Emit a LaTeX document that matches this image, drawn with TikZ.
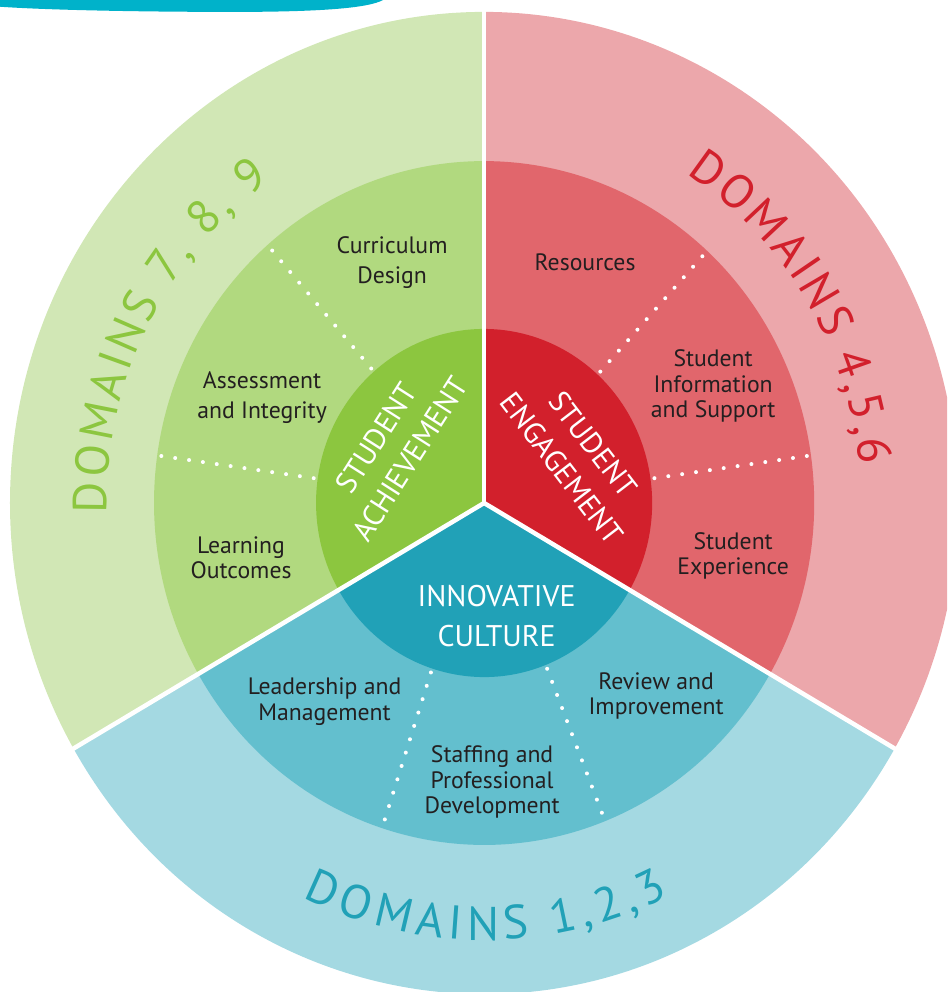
\documentclass[tikz,border=0pt]{standalone}
\usepackage{fontspec}
\setmainfont{PT Sans}
\usetikzlibrary{decorations.text}

\definecolor{greenout}{HTML}{D1E7B5}
\definecolor{greenmid}{HTML}{B1D97F}
\definecolor{greenin}{HTML}{8CC63F}
\definecolor{redout}{HTML}{ECA7AB}
\definecolor{redmid}{HTML}{E1666C}
\definecolor{redin}{HTML}{D2202C}
\definecolor{blueout}{HTML}{A4D9E2}
\definecolor{bluemid}{HTML}{63BFCE}
\definecolor{bluein}{HTML}{21A1B7}
\definecolor{brush}{HTML}{00B2CA}
\definecolor{ink}{HTML}{231F20}

\newcommand{\areafont}{\fontsize{13.5}{14.6}\selectfont}
\newcommand{\widefont}{\fontsize{13.5}{17}\selectfont}
\newcommand{\corefont}{\fontsize{17}{22.5}\selectfont}
\newcommand{\domainfont}{\fontsize{27}{30}\selectfont}

\begin{document}
\begin{tikzpicture}[%
x=0.02cm, y=0.02072cm,
areatext/.style={text=ink, align=center, font=\areafont, inner sep=0pt},
coretext/.style={text=white, align=center, font=\corefont, inner sep=0pt},
gapline/.style={white, line width=0.09cm},
dotline/.style={white, line width=0.08cm, line cap=round, dash pattern=on 0pt off 0.28cm},
]
\useasboundingbox (-484,-472) rectangle (463,485.5);
\clip (-484,-472) rectangle (463,485.5);
%% brush stroke;
\fill[brush] (-484,485.5) -- (-101,485.5) .. controls (-115,478) and (-160,474) .. (-250,474) .. controls (-350,474) and (-440,476) .. (-484,479) -- cycle;
%% outer ring;
\fill[greenout] (0,0) -- (90:474) arc[start angle=90, end angle=210, radius=474] -- cycle;
\fill[blueout] (0,0) -- (210:474) arc[start angle=210, end angle=330, radius=474] -- cycle;
\fill[redout] (0,0) -- (-30:474) arc[start angle=-30, end angle=90, radius=474] -- cycle;
%% middle ring;
\fill[greenmid] (0,0) -- (90:330) arc[start angle=90, end angle=210, radius=330] -- cycle;
\fill[bluemid] (0,0) -- (210:330) arc[start angle=210, end angle=330, radius=330] -- cycle;
\fill[redmid] (0,0) -- (-30:330) arc[start angle=-30, end angle=90, radius=330] -- cycle;
%% core;
\fill[greenin] (0,0) -- (90:168) arc[start angle=90, end angle=210, radius=168] -- cycle;
\fill[bluein] (0,0) -- (210:168) arc[start angle=210, end angle=330, radius=168] -- cycle;
\fill[redin] (0,0) -- (-30:168) arc[start angle=-30, end angle=90, radius=168] -- cycle;
%% dots;
\draw[dotline] (131:172) -- (131:334);
\draw[dotline] (172:172) -- (172:334);
\draw[dotline] (47.5:172) -- (47.5:334);
\draw[dotline] (8:172) -- (8:334);
\draw[dotline] (252:172) -- (252:330);
\draw[dotline] (291.5:172) -- (291.5:334);
%% gaps;
\draw[gapline] (0,0) -- (90:490);
\draw[gapline] (0,0) -- (210:490);
\draw[gapline] (0,0) -- (330:490);
%% domains;
\path[decorate, decoration={text along path, text align=fit to path, text color=greenin, text={|\domainfont|DOMAINS 7, 8, 9}}] (181.5:377) arc[start angle=181.5, end angle=124.5, radius=377];
\path[decorate, decoration={text along path, text align=fit to path, text color=redin, text={|\domainfont|DOMAINS 4,5,6}}] (57.5:377) arc[start angle=57.5, end angle=5.5, radius=377];
\path[decorate, decoration={text along path, text align=fit to path, text color=bluein, text={|\domainfont|DOMAINS 1,2,3}}] (244.5:422) arc[start angle=244.5, end angle=296, radius=422];
%% label;
\node[areatext, font=\widefont] (curriculum) at (-92,231.7) {Curriculum\\Design};
\node[areatext, font=\widefont] (assessment) at (-222,101.4) {Assessment\\and Integrity};
\node[areatext] (learning) at (-243,-53) {Learning\\Outcomes};
\node[areatext] (resources) at (101,232.6) {Resources};
\node[areatext] (information) at (229,112.9) {Student\\Information\\and Support};
\node[areatext] (experience) at (249,-51.2) {Student\\Experience};
\node[areatext] (leadership) at (-159.5,-192) {Leadership and\\Management};
\node[areatext] (review) at (172,-186.3) {Review and\\Improvement};
\node[areatext] (staffing) at (8,-269.3) {Staffing and\\Professional\\Development};
%% core label;
\node[coretext, rotate=57.5] (achievement) at (-91,52.6) {STUDENT\\ACHIEVEMENT};
\node[coretext, rotate=-52.5] (engagement) at (93.5,44.9) {STUDENT\\ENGAGEMENT};
\node[coretext] (culture) at (12.5,-109) {INNOVATIVE\\CULTURE};
\end{tikzpicture}
\end{document}
